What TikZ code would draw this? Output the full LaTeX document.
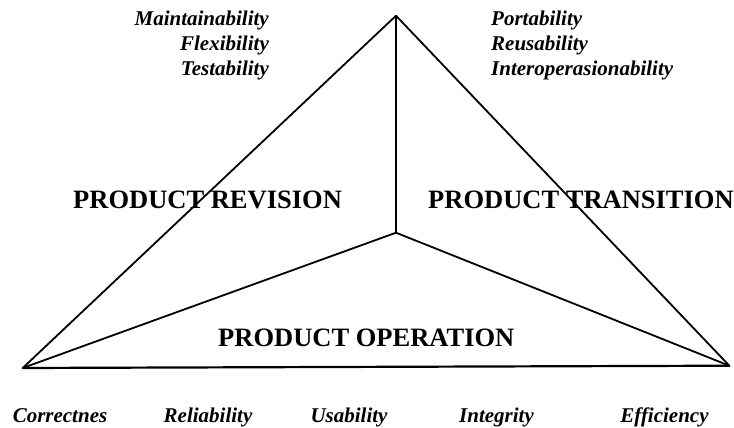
\documentclass[tikz,border=0pt]{standalone}
\usepackage{fontspec}
\setmainfont{Liberation Serif}
\begin{document}
\begin{tikzpicture}[x=1pt,y=-1pt,
  qual/.style={inner sep=0pt,font=\fontsize{21}{25}\selectfont\bfseries\itshape},
  group/.style={inner sep=0pt,font=\fontsize{26.5}{30}\selectfont\bfseries},
  edge/.style={line width=1.8pt,line cap=round,line join=round}]
\useasboundingbox (0,0) rectangle (734,428);
% vertices
\coordinate (top) at (396,15.7);
\coordinate (ctr) at (396,232.7);
\coordinate (L) at (22.7,368);
\coordinate (R) at (729.3,365.7);
% edges
\draw[edge] (L) -- (top) -- (R);
\draw[edge,line width=2.2pt] (L) -- (R);
\draw[edge] (top) -- (ctr);
\draw[edge] (L) -- (ctr) -- (R);
% top-left qualities
\node[qual,anchor=base east] (maint) at (269,26) {Maintainability};
\node[qual,anchor=base east] (flex) at (269,50.7) {Flexibility};
\node[qual,anchor=base east] (test) at (269,76) {Testability};
% top-right qualities
\node[qual,anchor=base west] (port) at (491,26) {Portability};
\node[qual,anchor=base west] (reus) at (491,50.7) {Reusability};
\node[qual,anchor=base west] (inter) at (491,76) {Interoperasionability};
% group titles
\node[group,anchor=base west] (rev) at (73,208) {PRODUCT REVISION};
\node[group,anchor=base west] (tra) at (428,208) {PRODUCT TRANSITION};
\node[group,anchor=base west] (ope) at (218,346) {PRODUCT OPERATION};
% bottom qualities
\node[qual,anchor=base] (corr) at (60,422) {Correctnes};
\node[qual,anchor=base] (reli) at (208,422) {Reliability};
\node[qual,anchor=base] (usab) at (349,422) {Usability};
\node[qual,anchor=base] (integ) at (496.5,422) {Integrity};
\node[qual,anchor=base] (eff) at (664.5,422) {Efficiency};
\end{tikzpicture}
\end{document}
